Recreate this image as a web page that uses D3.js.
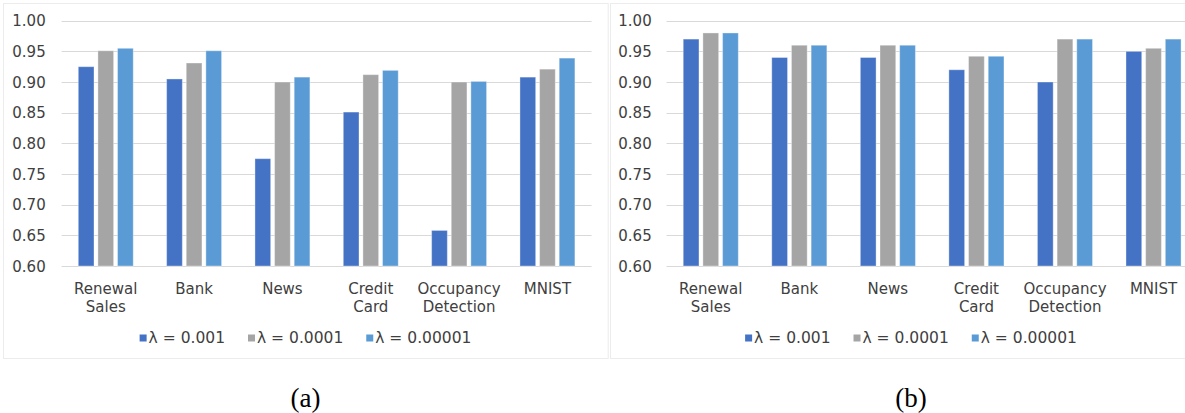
<!DOCTYPE html>
<html>
<head>
<meta charset="utf-8">
<script src="https://cdn.jsdelivr.net/npm/d3@7"></script>
<style>
  html, body { margin: 0; padding: 0; background: #fff; }
  svg { display: block; }
  text { font-family: "DejaVu Sans", Verdana, sans-serif; fill: #404040; }
  .caption { font-family: "Liberation Serif", "Times New Roman", serif; fill: #000; }
</style>
</head>
<body>
<svg id="chart" width="1185" height="413"></svg>
<script>
// Datasets and lambda settings
const categories = ["Renewal Sales", "Bank", "News", "Credit Card", "Occupancy Detection", "MNIST"];
const seriesNames = ["λ = 0.001", "λ = 0.0001", "λ = 0.00001"];
const seriesColors = ["#4472C4", "#A5A5A5", "#5B9BD5"];
const yTicks = [0.60, 0.65, 0.70, 0.75, 0.80, 0.85, 0.90, 0.95, 1.00];

// Panel (a)
const a_lambda001 = [0.925, 0.905, 0.775, 0.851, 0.658, 0.908];
const a_lambda0001 = [0.951, 0.931, 0.900, 0.912, 0.900, 0.921];
const a_lambda00001 = [0.955, 0.951, 0.908, 0.919, 0.901, 0.939];

// Panel (b)
const b_lambda001 = [0.970, 0.940, 0.940, 0.920, 0.900, 0.950];
const b_lambda0001 = [0.980, 0.960, 0.960, 0.942, 0.970, 0.955];
const b_lambda00001 = [0.980, 0.960, 0.960, 0.942, 0.970, 0.970];

const captions = ["(a)", "(b)"];

const svg = d3.select("#chart");
svg.append("rect").attr("width", 1185).attr("height", 413).attr("fill", "#fff");

function drawPanel(cfg) {
  const g = svg.append("g");
  const values = cfg.values;

  // chart area frame
  g.append("rect")
    .attr("x", cfg.frame[0] + 0.5).attr("y", 3.5)
    .attr("width", cfg.frame[1] - cfg.frame[0]).attr("height", 355)
    .attr("fill", "none").attr("stroke", "#ececec").attr("stroke-width", 1);

  const y = d3.scaleLinear().domain([0.6, 1.0]).range([266, 20.7]);
  const x0 = d3.scaleBand().domain(categories).range(cfg.xRange).padding(0);
  const groupOffset = x0.bandwidth() * 0.189;
  const x1 = d3.scaleBand().domain(d3.range(seriesNames.length))
    .range([groupOffset, x0.bandwidth() - groupOffset]).paddingInner(0.2).paddingOuter(0);

  // gridlines
  g.append("g").selectAll("line").data(yTicks).join("line")
    .attr("x1", cfg.xRange[0]).attr("x2", cfg.xRange[1])
    .attr("y1", d => Math.round(y(d)) + 0.5).attr("y2", d => Math.round(y(d)) + 0.5)
    .attr("stroke", "#d9d9d9").attr("stroke-width", 1);

  // y axis labels
  const yAxis = d3.axisLeft(y).tickValues(yTicks).tickFormat(d3.format(".2f")).tickSize(0).tickPadding(0);
  const ya = g.append("g").attr("transform", `translate(${cfg.yLabelRight},0)`).call(yAxis);
  ya.select(".domain").remove();
  ya.selectAll("text").attr("font-size", 15).attr("font-family", "DejaVu Sans").attr("fill", "#404040").attr("dy", "0.35em");

  // bars
  const groups = g.append("g").selectAll("g").data(categories).join("g")
    .attr("transform", c => `translate(${x0(c)},0)`);
  groups.selectAll("rect").data((c, i) => values.map((s, k) => ({ k, v: s[i] }))).join("rect")
    .attr("x", d => x1(d.k))
    .attr("width", x1.bandwidth())
    .attr("y", d => y(d.v))
    .attr("height", d => y(0.6) - y(d.v))
    .attr("fill", d => seriesColors[d.k])
    .attr("stroke", "rgba(255,255,255,0.35)").attr("stroke-width", 1);

  // category labels, one word per line
  const labels = g.append("g").selectAll("text").data(categories).join("text")
    .attr("x", c => x0(c) + x0.bandwidth() / 2)
    .attr("y", 293.5)
    .attr("text-anchor", "middle").attr("font-size", 15);
  labels.selectAll("tspan").data(c => c.split(" ")).join("tspan")
    .attr("x", function () { return this.parentNode.getAttribute("x"); })
    .attr("dy", (d, i) => i === 0 ? 0 : 18.7)
    .text(d => d);

  // legend
  const lg = g.append("g").attr("transform", `translate(0,338)`);
  const items = lg.selectAll("g").data(seriesNames).join("g");
  items.append("rect").attr("width", 7).attr("height", 7).attr("y", -3.5)
    .attr("fill", (d, i) => seriesColors[i]);
  items.append("text").attr("x", 9).attr("dy", "0.35em").attr("font-size", 15.5).text(d => d);
  let widths = [];
  items.each(function () { widths.push(this.getBBox().width); });
  const gap = 23;
  const total = d3.sum(widths) + gap * (widths.length - 1);
  let cx = cfg.legendCenter - total / 2;
  items.attr("transform", (d, i) => { const t = `translate(${cx},0)`; cx += widths[i] + gap; return t; });

  // caption
  g.append("text").attr("class", "caption")
    .attr("x", cfg.legendCenter).attr("y", 406.5)
    .attr("text-anchor", "middle").attr("font-size", 27)
    .text(cfg.caption);
}

drawPanel({
  values: [a_lambda001, a_lambda0001, a_lambda00001],
  xRange: [61.6, 591.6], yLabelRight: 45.7, frame: [3, 607.7],
  legendCenter: 305.5, caption: captions[0]
});
drawPanel({
  values: [b_lambda001, b_lambda0001, b_lambda00001],
  xRange: [666.5, 1197.8], yLabelRight: 651.7, frame: [610, 1212],
  legendCenter: 911, caption: captions[1]
});
</script>
</body>
</html>
